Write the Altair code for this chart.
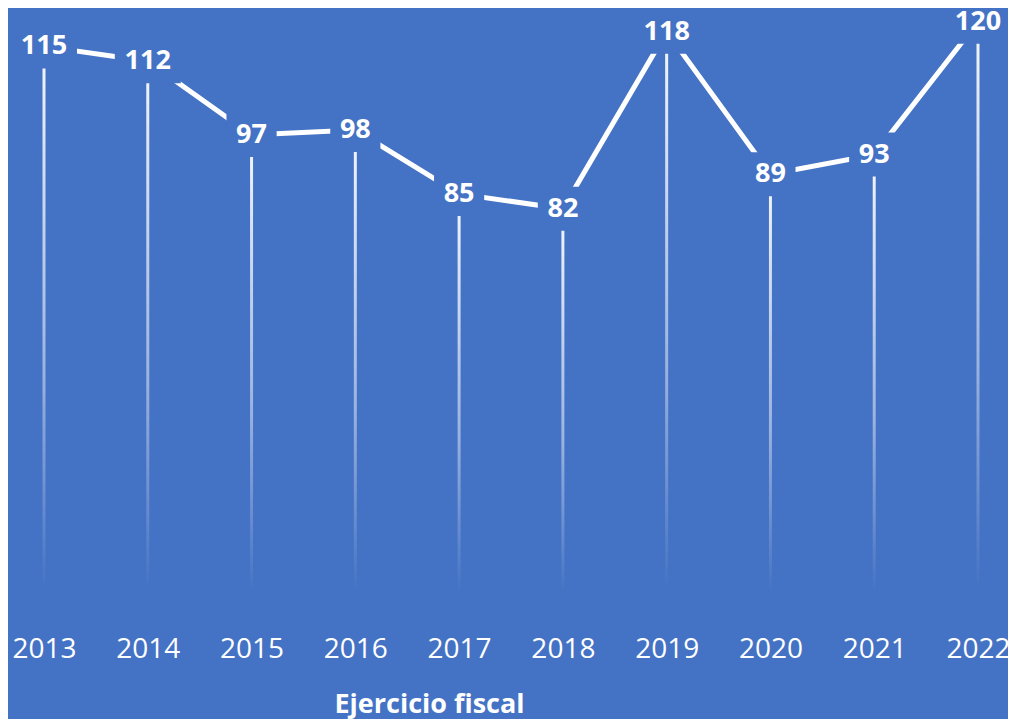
import altair as alt
import pandas as pd

years = [2013, 2014, 2015, 2016, 2017, 2018, 2019, 2020, 2021, 2022]
values = [115, 112, 97, 98, 85, 82, 118, 89, 93, 120]
axis_title = "Ejercicio fiscal"

BG = "#4472C4"
df = pd.DataFrame({"year": years, "value": values})
df["digits"] = df["value"].astype(str).str.len().astype(str)

x = alt.X("year:Q",
          scale=alt.Scale(domain=[2013, 2022], range=[36, 970], nice=False, zero=False, padding=0),
          axis=alt.Axis(values=years, format="d", grid=False, domain=False, ticks=False,
                        labelFlush=False, labelOverlap=False,
                        labelColor="white", labelFontSize=28, labelFont="Open Sans",
                        labelFontWeight="normal", labelPadding=23,
                        title=axis_title, titleColor="white", titleFont="Open Sans",
                        titleFontSize=27, titleFontWeight="bold", titleX=421, titleY=100,
                        titleAlign="center", titleBaseline="alphabetic"))
y = alt.Y("value:Q", scale=alt.Scale(domain=[0, 122.4], nice=False, padding=0), axis=None)

base = alt.Chart(df)

drops = base.mark_bar(size=3, color=alt.Gradient(
    gradient="linear", x1=0, x2=0, y1=0, y2=1,
    stops=[alt.GradientStop(color="rgba(255,255,255,0.95)", offset=0),
           alt.GradientStop(color="rgba(255,255,255,0.45)", offset=0.6),
           alt.GradientStop(color="rgba(255,255,255,0.0)", offset=0.98)])).encode(
    x=x, y=y, y2=alt.datum(2))

line = base.mark_line(color="white", strokeWidth=5).encode(x=x, y=y)

path2 = "M-0.76,-0.667H0.76V0.667H-0.76Z"
path3 = "M-1,-0.667H1V0.667H-1Z"
boxes = base.mark_point(filled=True, size=4356, color=BG, opacity=1, strokeWidth=0).encode(
    x=x, y=y,
    shape=alt.Shape("digits:N", scale=alt.Scale(domain=["2", "3"], range=[path2, path3]),
                    legend=None))

labels = base.mark_text(color="white", fontSize=27, font="Open Sans", fontWeight="bold",
                        align="center", baseline="middle").encode(
    x=x, y=y, text=alt.Text("value:Q", format="d"))

chart = alt.layer(drops, line, boxes, labels).properties(
    width=1000, height=602,
    autosize=alt.AutoSizeParams(type="none"),
    padding={"left": 0, "top": 2, "right": 0, "bottom": 107},
    background=BG,
).configure_view(stroke=None)

chart.save("out.html", embed_options={"renderer": "svg", "actions": False})
